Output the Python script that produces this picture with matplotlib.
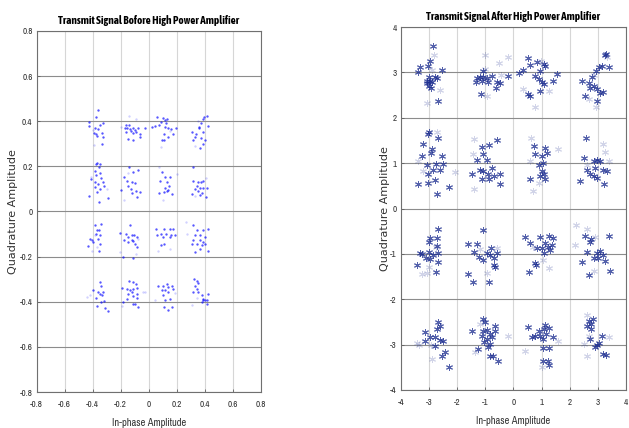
import numpy as np
import matplotlib
matplotlib.use('Agg')
import matplotlib.pyplot as plt
plt.rcParams['axes.unicode_minus'] = False

# 发射信号星座点 (功放前)，读图估计
before_pts = [
    (-0.36, 0.45), (-0.38, 0.42), (-0.43, 0.395), (-0.43, 0.38), (-0.325, 0.39), (-0.35, 0.385), (-0.385, 0.37),
    (-0.36, 0.365), (-0.39, 0.35), (-0.375, 0.345), (-0.37, 0.335), (-0.335, 0.35), (-0.33, 0.33), (-0.335, 0.30),
    (-0.16, 0.385), (-0.14, 0.385), (-0.17, 0.37), (-0.155, 0.368), (-0.135, 0.365), (-0.115, 0.37), (-0.1, 0.362),
    (-0.075, 0.368), (-0.03, 0.37), (-0.16, 0.352), (-0.13, 0.355), (-0.11, 0.348), (-0.09, 0.352), (-0.065, 0.345),
    (-0.15, 0.32), (-0.115, 0.318), (-0.06, 0.332),
    (0.06, 0.42), (0.10, 0.415), (0.115, 0.405), (0.13, 0.41), (0.125, 0.39), (0.09, 0.397), (0.045, 0.38),
    (0.025, 0.374), (0.075, 0.385), (0.115, 0.375), (0.14, 0.37), (0.16, 0.365), (0.195, 0.37), (0.105, 0.345),
    (0.17, 0.345), (0.105, 0.318), (0.095, 0.315), (0.135, 0.332),
    (0.395, 0.42), (0.415, 0.423), (0.385, 0.41), (0.37, 0.39), (0.355, 0.375), (0.425, 0.38), (0.305, 0.352),
    (0.34, 0.345), (0.36, 0.37), (0.385, 0.352), (0.33, 0.33), (0.37, 0.325), (0.40, 0.318), (0.315, 0.315),
    (0.385, 0.30), (0.365, 0.282),
    (-0.38, 0.21), (-0.37, 0.215), (-0.35, 0.21), (-0.358, 0.195), (-0.385, 0.18), (-0.35, 0.172), (-0.41, 0.144),
    (-0.375, 0.16), (-0.34, 0.15), (-0.385, 0.129), (-0.36, 0.122), (-0.325, 0.13), (-0.385, 0.108), (-0.35, 0.10),
    (-0.43, 0.07), (-0.372, 0.085), (-0.352, 0.04), (-0.29, 0.058), (-0.32, 0.115),
    (-0.14, 0.196), (-0.075, 0.186), (-0.11, 0.174), (-0.18, 0.151), (-0.158, 0.137), (-0.122, 0.13), (-0.15, 0.115),
    (-0.10, 0.125), (-0.13, 0.10), (-0.195, 0.095), (-0.09, 0.092), (-0.122, 0.08), (-0.063, 0.088), (-0.082, 0.065),
    (0.097, 0.174), (0.115, 0.155), (0.15, 0.155), (0.08, 0.137), (0.128, 0.13), (0.144, 0.114), (0.115, 0.105),
    (0.138, 0.097), (0.128, 0.09), (0.105, 0.085), (0.073, 0.08), (0.163, 0.077),
    (0.317, 0.196), (0.317, 0.137), (0.353, 0.13), (0.37, 0.129), (0.385, 0.137), (0.342, 0.114), (0.33, 0.10),
    (0.365, 0.105), (0.388, 0.105), (0.413, 0.104), (0.353, 0.09), (0.377, 0.082), (0.365, 0.072), (0.306, 0.077),
    (0.405, 0.065),
    (-0.34, -0.055), (-0.384, -0.062), (-0.372, -0.084), (-0.355, -0.084), (-0.38, -0.099), (-0.348, -0.102),
    (-0.365, -0.121), (-0.42, -0.121), (-0.408, -0.128), (-0.395, -0.135), (-0.349, -0.143), (-0.431, -0.151),
    (-0.353, -0.173),
    (-0.134, -0.062), (-0.206, -0.094), (-0.163, -0.099), (-0.146, -0.114), (-0.122, -0.106), (-0.105, -0.106),
    (-0.087, -0.114), (-0.175, -0.125), (-0.146, -0.136), (-0.122, -0.128), (-0.11, -0.131), (-0.099, -0.143),
    (-0.087, -0.158), (-0.182, -0.202), (-0.115, -0.205),
    (0.049, -0.077), (0.11, -0.077), (0.151, -0.077), (0.175, -0.077), (0.09, -0.099), (0.125, -0.099),
    (0.16, -0.106), (0.185, -0.102), (0.06, -0.106), (0.10, -0.114), (0.15, -0.114), (0.11, -0.143), (0.09, -0.15),
    (0.317, -0.062), (0.346, -0.084), (0.39, -0.084), (0.425, -0.077), (0.33, -0.106), (0.365, -0.106),
    (0.40, -0.114), (0.317, -0.128), (0.365, -0.128), (0.39, -0.136), (0.306, -0.143), (0.342, -0.143),
    (0.377, -0.15), (0.40, -0.143), (0.425, -0.173), (0.329, -0.18), (0.365, -0.165),
    (-0.348, -0.313), (-0.339, -0.328), (-0.396, -0.347), (-0.36, -0.357), (-0.348, -0.364), (-0.325, -0.357),
    (-0.336, -0.372), (-0.379, -0.382), (-0.32, -0.397), (-0.341, -0.401), (-0.372, -0.419), (-0.313, -0.428),
    (-0.294, -0.441),
    (-0.139, -0.308), (-0.11, -0.313), (-0.091, -0.32), (-0.194, -0.338), (-0.158, -0.345), (-0.134, -0.35),
    (-0.11, -0.343), (-0.082, -0.338), (-0.146, -0.364), (-0.122, -0.357), (-0.11, -0.376), (-0.087, -0.364),
    (-0.082, -0.382), (-0.158, -0.387), (-0.182, -0.401), (-0.11, -0.409), (-0.099, -0.409), (-0.075, -0.424),
    (0.068, -0.328), (0.104, -0.328), (0.127, -0.323), (0.139, -0.335), (0.163, -0.328), (0.092, -0.35),
    (0.115, -0.35), (0.139, -0.357), (0.175, -0.345), (0.104, -0.372), (0.151, -0.387), (0.115, -0.394),
    (0.11, -0.424), (0.163, -0.424), (0.139, -0.438),
    (0.325, -0.298), (0.342, -0.308), (0.349, -0.317), (0.33, -0.328), (0.342, -0.343), (0.317, -0.357),
    (0.353, -0.357), (0.377, -0.372), (0.425, -0.364), (0.389, -0.394), (0.401, -0.391), (0.418, -0.394),
    (0.377, -0.401), (0.418, -0.411), (0.385, -0.39),
]
before_faint = [
    (-0.39, 0.295), (-0.40, 0.36), (-0.14, 0.423), (-0.2, 0.375), (-0.09, 0.41), (0.09, 0.285), (0.15, 0.355),
    (0.35, 0.40), (0.33, 0.29), (-0.41, 0.155), (-0.30, 0.10), (-0.18, 0.05), (-0.15, 0.17), (0.073, 0.196),
    (0.20, 0.166), (0.10, 0.05), (0.41, 0.15), (0.33, 0.07), (-0.372, -0.158), (-0.408, -0.177), (-0.385, -0.105),
    (-0.075, -0.121), (-0.206, -0.18), (-0.091, -0.187), (0.153, -0.168), (0.068, -0.173), (0.268, -0.047),
    (0.27, -0.099), (-0.42, -0.372), (-0.444, -0.377), (-0.04, -0.357), (-0.028, -0.357), (-0.19, -0.42),
    (0.044, -0.394), (0.19, -0.36), (0.342, -0.382), (0.308, -0.416),
]

# 功放后
after_pts = [
    (-2.87, 3.58), (-2.97, 3.26), (-3.03, 3.14), (-3.32, 3.13), (-3.41, 3.0), (-3.01, 2.91), (-3.06, 2.80),
    (-2.97, 2.82), (-2.91, 2.78), (-3.0, 2.71), (-2.94, 2.66), (-2.79, 2.91), (-2.55, 3.06), (-2.73, 2.88),
    (-2.67, 2.38), (-3.08, 2.76),
    (-1.1, 3.04), (-1.3, 2.88), (-1.18, 2.89), (-1.07, 2.9), (-0.95, 2.88), (-0.77, 2.93), (-1.34, 2.78),
    (-1.13, 2.82), (-0.89, 2.78), (-0.59, 2.78), (-0.21, 2.93), (-1.16, 2.52), (-0.63, 2.66), (-0.48, 2.76),
    (0.5, 3.32), (0.33, 3.06), (0.21, 2.98), (0.6, 3.17), (0.83, 3.22), (0.95, 3.04), (1.1, 3.19), (1.12, 3.15),
    (0.77, 2.93), (0.89, 2.85), (1.03, 2.78), (1.42, 2.82), (1.54, 2.97), (0.53, 2.52), (0.59, 2.49), (0.95, 2.6),
    (1.1, 2.74),
    (3.26, 3.39), (3.28, 3.4), (3.41, 3.13), (3.05, 3.13), (2.94, 3.03), (2.79, 2.89), (2.43, 2.8), (2.67, 2.77),
    (2.87, 2.71), (2.97, 2.63), (2.73, 2.66), (2.55, 2.49), (3.09, 2.54), (3.2, 2.56), (2.97, 2.38), (3.14, 3.15),
    (-3.03, 1.64), (-2.99, 1.68), (-2.67, 1.55), (-3.2, 1.42), (-2.91, 1.31), (-2.94, 1.23), (-3.26, 1.16),
    (-2.55, 1.16), (-3.06, 0.97), (-2.75, 0.99), (-2.49, 0.99), (-2.61, 0.86), (-2.85, 0.86), (-3.03, 0.75),
    (-3.03, 0.57), (-2.79, 0.62), (-3.41, 0.53), (-2.28, 0.47), (-2.73, 0.31),
    (-1.13, 1.36), (-0.87, 1.4), (-0.59, 1.5), (-1.09, 1.2), (-1.3, 1.08), (-0.95, 1.06), (-0.77, 0.9),
    (-1.48, 0.77), (-1.18, 0.86), (-1.07, 0.83), (-0.89, 0.77), (-0.71, 0.72), (-1.13, 0.64), (-0.86, 0.64),
    (-0.47, 0.77), (-0.47, 0.55),
    (0.74, 1.38), (0.77, 1.2), (1.19, 1.23), (1.0, 1.16), (1.13, 1.33), (0.89, 0.97), (1.04, 1.01), (1.01, 0.82),
    (1.09, 0.75), (0.95, 0.71), (0.57, 0.64), (1.13, 0.66),
    (2.58, 1.56), (2.49, 1.12), (2.61, 0.86), (2.85, 1.05), (2.97, 1.06), (3.09, 1.04), (2.91, 0.9), (3.2, 0.84),
    (3.32, 0.82), (2.37, 0.6), (2.85, 0.72), (2.97, 0.68), (3.21, 0.55), (2.73, 0.75),
    (-2.69, -0.46), (-2.97, -0.64), (-3.0, -0.74), (-2.73, -0.66), (-3.32, -0.99), (-3.26, -1.01), (-3.02, -0.95),
    (-2.73, -0.82), (-2.85, -1.02), (-2.69, -0.98), (-3.11, -1.09), (-2.97, -1.12), (-3.44, -1.24), (-2.67, -1.17),
    (-2.75, -1.4),
    (-1.07, -0.48), (-1.6, -0.79), (-1.3, -0.79), (-1.42, -0.96), (-1.21, -1.06), (-0.95, -0.99), (-0.83, -1.02),
    (-1.07, -1.13), (-0.71, -1.09), (-0.81, -0.86), (-0.69, -1.24), (-0.65, -1.28), (-1.6, -1.44), (-1.45, -1.62),
    (-0.87, -1.62), (-0.6, -0.99),
    (0.42, -0.62), (0.57, -0.77), (0.95, -0.62), (1.25, -0.6), (1.42, -0.64), (1.13, -0.77), (1.01, -0.86),
    (0.83, -0.88), (1.36, -0.81), (1.21, -0.84), (1.07, -0.97), (1.3, -0.91), (0.77, -1.2), (0.8, -1.24),
    (0.56, -1.4),
    (2.53, -0.6), (2.73, -0.73), (2.75, -0.67), (3.38, -0.6), (2.61, -0.95), (2.43, -1.17), (2.85, -1.09),
    (2.97, -0.98), (3.09, -0.93), (3.2, -1.02), (3.26, -1.15), (3.42, -1.37), (2.67, -1.46), (3.0, -1.1),
    (-2.69, -2.51), (-2.61, -2.58), (-3.15, -2.73), (-2.73, -2.66), (-2.97, -2.84), (-2.79, -2.84), (-2.61, -2.89),
    (-2.49, -2.91), (-3.15, -2.93), (-2.79, -3.04), (-2.55, -3.24), (-2.43, -3.16), (-2.31, -3.49),
    (-1.07, -2.44), (-1.01, -2.51), (-0.65, -2.58), (-1.48, -2.69), (-1.07, -2.69), (-0.95, -2.68), (-0.83, -2.76),
    (-0.77, -2.84), (-1.13, -2.8), (-0.95, -2.87), (-1.04, -2.95), (-1.25, -3.09), (-0.83, -2.99), (-0.89, -3.06),
    (-0.83, -3.24), (-0.74, -3.26), (-0.56, -3.36), (-0.65, -2.69),
    (0.53, -2.62), (0.89, -2.69), (1.09, -2.65), (1.25, -2.63), (1.13, -2.56), (0.77, -2.82), (0.96, -2.8),
    (1.04, -2.87), (0.65, -2.84), (1.16, -2.76), (1.42, -2.84), (1.04, -3.07), (1.28, -3.07), (1.06, -3.35),
    (1.23, -3.35), (1.28, -3.44),
    (2.67, -2.47), (2.81, -2.43), (2.61, -2.58), (2.74, -2.55), (2.76, -2.66), (2.73, -2.87), (3.03, -2.97),
    (2.97, -3.0), (3.15, -2.82), (3.2, -3.2), (3.28, -3.22), (2.91, -3.06),
]
after_faint = [
    (-2.81, 3.39), (-2.61, 2.61), (-3.06, 2.32), (-2.9, 3.05), (-1.03, 3.08), (-0.93, 2.49), (-0.45, 2.95),
    (-1.03, 3.39), (-0.5, 3.2), (-0.18, 3.33), (0.98, 3.26), (0.33, 2.63), (0.75, 2.23), (1.25, 2.6),
    (2.67, 2.41), (2.94, 2.23), (3.32, 3.33), (2.85, 2.95), (-2.73, 1.68), (-3.38, 1.05), (-2.08, 0.81),
    (-3.2, 0.83), (-1.42, 1.53), (-1.42, 0.42), (-1.44, 1.2), (0.62, 1.56), (0.69, 0.38), (1.6, 1.31),
    (0.92, 0.57), (0.6, 1.05), (3.2, 1.42), (3.26, 1.25), (3.38, 1.04), (2.6, 0.95),
    (-3.26, -1.44), (-3.02, -1.28), (-3.08, -1.42), (-2.75, -0.85), (-0.59, -0.88), (-0.95, -1.42), (-1.2, -0.9),
    (1.05, -1.13), (1.25, -1.31), (0.7, -0.85), (2.23, -0.37), (2.61, -0.46), (2.9, -0.62), (2.85, -1.37),
    (2.2, -0.8), (-3.35, -3.0), (-2.91, -3.31), (-3.44, -2.97), (-2.95, -3.0), (-1.36, -3.16), (-0.18, -2.82),
    (-1.2, -2.55), (1.6, -2.91), (1.0, -3.49), (0.42, -3.13), (2.61, -2.34), (2.67, -2.81), (2.61, -3.24),
    (3.38, -2.84), (2.49, -2.98),
]

before_ticks = [-0.8, -0.6, -0.4, -0.2, 0, 0.2, 0.4, 0.6, 0.8]
before_labels = ['-0.8', '-0.6', '-0.4', '-0.2', '0', '0.2', '0.4', '0.6', '0.8']
after_ticks = [-4, -3, -2, -1, 0, 1, 2, 3, 4]
after_labels = ['-4', '-3', '-2', '-1', '0', '1', '2', '3', '4']

narrow = ['Archivo Narrow', 'DejaVu Sans']
bold_narrow = ['Asap Condensed', 'DejaVu Sans']
wide = ['DejaVu Sans']


def style_axes(ax, ticks, labels, title, ypad):
    ax.set_xlim(ticks[0], ticks[-1])
    ax.set_ylim(ticks[0], ticks[-1])
    ax.set_xticks(ticks)
    ax.set_yticks(ticks)
    ax.set_xticklabels(labels, family=narrow, fontsize=6.5)
    ax.set_yticklabels(labels, family=narrow, fontsize=6.5)
    ax.tick_params(direction='in', length=2.5, width=0.6, color='#606060', labelcolor='#333333')
    ax.tick_params(axis='x', pad=6)
    ax.tick_params(axis='y', pad=3)
    ax.grid(axis='x', color='#d6d6d6', lw=0.8)
    ax.grid(axis='y', color='#8c8c8c', lw=0.8)
    ax.set_axisbelow(True)
    for s in ax.spines.values():
        s.set_color('#707070')
        s.set_linewidth(0.8)
    ax.set_title(title, family=bold_narrow, fontsize=8, fontweight='bold', pad=5)
    ax.set_xlabel('In-phase Amplitude', family=narrow, fontsize=7.5, labelpad=6, color='#333333')
    ax.set_ylabel('Quadrature Amplitude', family=wide, fontsize=8, labelpad=ypad, color='#333333')


fig = plt.figure(figsize=(6.29, 4.28), dpi=100)
ax1 = fig.add_axes([0.0583, 0.0841, 0.3566, 0.8435])
ax2 = fig.add_axes([0.6375, 0.0888, 0.3577, 0.848])

b = np.array(before_pts)
bf = np.array(before_faint)
ax1.plot(bf[:, 0], bf[:, 1], '.', color='#0000ff', alpha=0.18, markersize=3.4, markeredgewidth=0)
ax1.plot(b[:, 0], b[:, 1], '.', color='#1010ff', alpha=0.7, markersize=3.4, markeredgewidth=0)
style_axes(ax1, before_ticks, before_labels, 'Transmit Signal Bofore High Power Amplifier', 1)

a = np.array(after_pts)
af = np.array(after_faint)
ax2.plot(af[:, 0], af[:, 1], marker=(6, 2, 0), ls='none', color='#1b2c8f', alpha=0.2, markersize=5, markeredgewidth=0.7)
ax2.plot(a[:, 0], a[:, 1], marker=(6, 2, 0), ls='none', color='#1b2c8f', alpha=0.75, markersize=5, markeredgewidth=0.7)
style_axes(ax2, after_ticks, after_labels, 'Transmit Signal After High Power Amplifier', 0)

plt.savefig('out.png', dpi=100)
